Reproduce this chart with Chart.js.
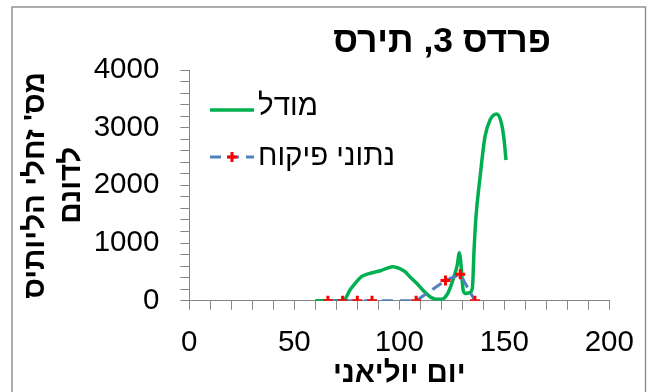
<!DOCTYPE html>
<html>
<head>
<meta charset="utf-8">
<script src="https://cdn.jsdelivr.net/npm/chart.js@4.4.1/dist/chart.umd.min.js"></script>
<style>
  html, body { margin: 0; padding: 0; background: #ffffff; }
  #wrap { width: 650px; height: 392px; position: relative; }
</style>
</head>
<body>
<div id="wrap"><canvas id="chart" width="650" height="392"></canvas></div>
<script>
// Model curve: larvae per dunam against Julian day
const modelDays   = [60, 66, 72, 73.5, 75, 76.5, 79, 82, 86, 91, 94, 97, 100, 102.7, 105, 108.3, 111.5, 114.6, 117.8, 120.2, 122.6, 124.5, 126, 127.6, 128.6, 129.2, 129.8, 130.4, 131.3, 133.4, 134.8, 135.6, 136.5, 138.4, 140.8, 143.2, 146.4, 148.6, 149.9, 150.8];
const modelCounts = [0, 0, 0, 0, 80, 185, 301, 416, 475, 520, 561, 590, 561, 503, 416, 301, 173, 69, 24, 24, 99, 250, 416, 619, 833, 706, 416, 185, 127, 139, 220, 880, 1450, 2122, 2844, 3133, 3237, 3080, 2790, 2440];

// Field monitoring samples
const monitorDays   = [66, 73, 80, 87, 108, 122, 129, 136];
const monitorCounts = [0, 0, 0, 0, 0, 350, 460, 0];

// Labelled ticks
const xTickLabels = [0, 50, 100, 150, 200];
const yTickLabels = [0, 1000, 2000, 3000, 4000];

const chartTitle  = 'פרדס 3, תירס';
const xAxisTitle  = 'יום יוליאני';
const yAxisTitle  = ["מס' זחלי הליותיס", 'לדונם'];
const seriesNames = ['מודל', 'נתוני פיקוח'];

const GREEN = '#00B050';
const BLUE  = '#4F81BD';
const RED   = '#FF0000';
const AXIS  = '#868686';
const FONT  = '"Liberation Sans", Arial, sans-serif';
const TEXT_SIZE = 29.5;

const toPoints = (xs, ys) => xs.map((x, i) => ({ x, y: ys[i] }));

// Frame, title and in-plot legend
const decor = {
  id: 'decor',
  beforeDraw(chart) {
    const ctx = chart.ctx;
    ctx.save();
    ctx.strokeStyle = '#8c8c8c';
    ctx.lineWidth = 1.4;
    ctx.strokeRect(12, 7, 633.5, 400);
    ctx.restore();
  },
  afterDraw(chart) {
    const ctx = chart.ctx;
    ctx.save();
    ctx.fillStyle = '#000';
    ctx.direction = 'rtl';
    ctx.textBaseline = 'middle';

    ctx.font = 'bold 35.5px ' + FONT;
    ctx.textAlign = 'center';
    ctx.fillText(chartTitle, 442, 42);

    const x0 = 210, x1 = 254;
    const rows = [107, 157];
    const ds = chart.data.datasets;

    // model entry
    ctx.strokeStyle = ds[0].borderColor;
    ctx.lineWidth = ds[0].borderWidth;
    ctx.setLineDash([]);
    ctx.beginPath();
    ctx.moveTo(x0, 110);
    ctx.lineTo(x1, 110);
    ctx.stroke();

    // monitoring entry: dashed line with the sample marker in the middle
    ctx.strokeStyle = ds[1].borderColor;
    ctx.lineWidth = ds[1].borderWidth;
    ctx.setLineDash(ds[1].borderDash);
    ctx.beginPath();
    ctx.moveTo(x0, rows[1]);
    ctx.lineTo(x1, rows[1]);
    ctx.stroke();
    ctx.setLineDash([]);
    ctx.strokeStyle = ds[1].pointBorderColor;
    ctx.lineWidth = ds[1].pointBorderWidth;
    const cx = (x0 + x1) / 2, r = ds[1].pointRadius;
    ctx.beginPath();
    ctx.moveTo(cx - r, rows[1]); ctx.lineTo(cx + r, rows[1]);
    ctx.moveTo(cx, rows[1] - r); ctx.lineTo(cx, rows[1] + r);
    ctx.stroke();

    ctx.font = TEXT_SIZE + 'px ' + FONT;
    ctx.textAlign = 'left';
    ctx.fillStyle = '#000';
    ctx.fillText(seriesNames[0], 258, rows[0]);
    ctx.fillText(seriesNames[1], 258, rows[1]);
    ctx.restore();
  }
};

new Chart(document.getElementById('chart'), {
  type: 'scatter',
  data: {
    datasets: [
      {
        label: seriesNames[0],
        data: toPoints(modelDays, modelCounts),
        showLine: true,
        borderColor: GREEN,
        backgroundColor: GREEN,
        borderWidth: 3.5,
        pointRadius: 0,
        cubicInterpolationMode: 'monotone',
        order: 2
      },
      {
        label: seriesNames[1],
        data: toPoints(monitorDays, monitorCounts),
        showLine: true,
        borderColor: BLUE,
        backgroundColor: RED,
        borderWidth: 3,
        borderDash: [11, 7],
        tension: 0,
        pointStyle: 'cross',
        pointRadius: 5,
        pointBorderWidth: 3,
        pointBorderColor: RED,
        pointBackgroundColor: RED,
        order: 1
      }
    ]
  },
  options: {
    responsive: false,
    devicePixelRatio: 1,
    animation: false,
    layout: { padding: { left: 0, top: 70, right: 40.7, bottom: 0 } },
    plugins: {
      legend: { display: false },
      title: { display: false },
      tooltip: { enabled: false }
    },
    scales: {
      x: {
        type: 'linear',
        min: 0, max: 200,
        afterFit(s) { s.height = 392 - 300.7; },
        ticks: {
          stepSize: 10,
          autoSkip: false,
          maxRotation: 0,
          padding: 15,
          color: '#000',
          font: { family: FONT, size: TEXT_SIZE, lineHeight: 1.2 },
          callback: v => xTickLabels.includes(v) ? String(v) : ''
        },
        grid: { drawOnChartArea: false, drawTicks: true, tickLength: 9, color: AXIS, lineWidth: 1 },
        border: { display: true, color: AXIS, width: 1 },
        title: {
          display: true, text: xAxisTitle, color: '#000', padding: 0,
          font: { family: FONT, size: TEXT_SIZE, weight: 'bold', lineHeight: 1.2 }
        }
      },
      y: {
        type: 'linear',
        min: 0, max: 4000,
        afterFit(s) { s.width = 189.3; },
        ticks: {
          stepSize: 200,
          autoSkip: false,
          padding: 21,
          color: '#000',
          font: { family: FONT, size: TEXT_SIZE },
          callback: v => yTickLabels.includes(v) ? String(v) : ''
        },
        grid: { drawOnChartArea: false, drawTicks: true, tickLength: 9, color: AXIS, lineWidth: 1 },
        border: { display: true, color: AXIS, width: 1 },
        title: {
          display: true, text: yAxisTitle, color: '#000', padding: { top: 18, bottom: 0 },
          font: { family: FONT, size: TEXT_SIZE, weight: 'bold', lineHeight: 1.22 }
        }
      }
    }
  },
  plugins: [decor]
});
</script>
</body>
</html>
